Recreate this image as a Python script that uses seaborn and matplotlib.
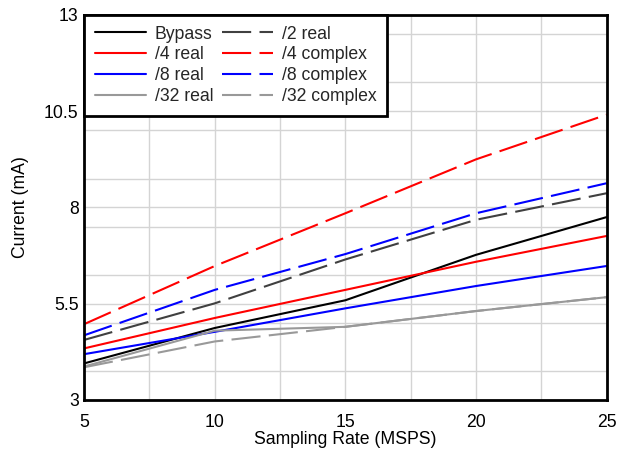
import matplotlib
import matplotlib.pyplot as plt
import seaborn as sns
from matplotlib.ticker import MultipleLocator

matplotlib.use("Agg")

rate = [5, 10, 15, 20, 25]
bypass = [3.95, 4.87, 5.59, 6.77, 7.75]
div2_real = [4.56, 5.51, 6.65, 7.68, 8.37]
div4_real = [4.34, 5.13, 5.86, 6.59, 7.26]
div4_complex = [4.97, 6.48, 7.85, 9.25, 10.41]
div8_real = [4.19, 4.77, 5.38, 5.96, 6.48]
div8_complex = [4.68, 5.86, 6.79, 7.85, 8.63]
div32_real = [3.87, 4.80, 4.90, 5.31, 5.67]
div32_complex = [3.85, 4.52, 4.90, 5.31, 5.67]

# legend reads row by row, so keep the real ones first (left column)
series = [
    ("Bypass", bypass, "#000000", "-"),
    ("/4 real", div4_real, "#ff0000", "-"),
    ("/8 real", div8_real, "#0000ff", "-"),
    ("/32 real", div32_real, "#999999", "-"),
    ("/2 real", div2_real, "#404040", (0, (14, 4))),
    ("/4 complex", div4_complex, "#ff0000", (0, (14, 4))),
    ("/8 complex", div8_complex, "#0000ff", (0, (14, 4))),
    ("/32 complex", div32_complex, "#999999", (0, (14, 4))),
]

sns.set_theme(style="white")
plt.rcParams["font.family"] = ["Liberation Sans", "DejaVu Sans"]
FS = 12.7

fig, ax = plt.subplots(figsize=(6.28, 4.54), dpi=100)
fig.subplots_adjust(left=0.134, right=0.966, top=0.967, bottom=0.119)

for label, vals, color, ls in series:
    sns.lineplot(x=rate, y=vals, label=label, color=color, linestyle=ls,
                 linewidth=1.5, ax=ax, legend=False)

ax.set_xlim(5, 25)
ax.set_ylim(3, 13)
ax.xaxis.set_major_locator(MultipleLocator(5))
ax.xaxis.set_minor_locator(MultipleLocator(2.5))
ax.yaxis.set_minor_locator(MultipleLocator(1.25))
ax.set_yticks([3, 5.5, 8, 10.5, 13])
ax.set_yticklabels(["3", "5.5", "8", "10.5", "13"])
ax.grid(True, which="both", color="#d4d4d4", linewidth=1.0)
ax.tick_params(which="both", length=0, labelsize=FS, colors="black")
ax.tick_params(axis="x", pad=10)
ax.tick_params(axis="y", pad=4)
ax.set_xlabel("Sampling Rate (MSPS)", fontsize=FS, color="black", labelpad=0)
ax.set_ylabel("Current (mA)", fontsize=FS, color="black", labelpad=11)
for sp in ax.spines.values():
    sp.set_color("black")
    sp.set_linewidth(2)

handles = ax.get_lines()
leg = ax.legend(
    handles=handles,
    labels=[h.get_label() for h in handles],
    loc="upper left",
    ncol=2,
    fontsize=FS,
    frameon=True,
    fancybox=False,
    framealpha=1,
    borderaxespad=0,
    handlelength=2.9,
    handletextpad=0.5,
    columnspacing=0.5,
    labelspacing=0.22,
    borderpad=0.6,
)
leg.get_frame().set_edgecolor("black")
leg.get_frame().set_linewidth(2)

fig.savefig("out.png", dpi=100)
